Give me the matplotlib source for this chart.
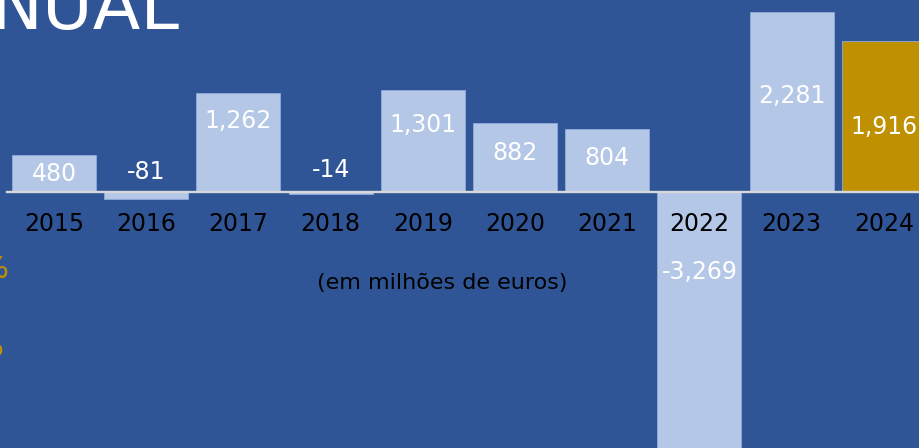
import matplotlib
matplotlib.use("Agg")
import matplotlib.pyplot as plt
import numpy as np

# ── data ─────────────────────────────────────────────────────────────────────
years = ["2015", "2016", "2017", "2018", "2019", "2020", "2021", "2022", "2023", "2024"]
values = [480, -81, 1262, -14, 1301, 882, 804, -3269, 2281, 1916]
labels = ["480", "-81", "1,262", "-14", "1,301", "882", "804", "-3,269", "2,281", "1,916"]
# where each value label sits (data units)
label_y = [232, 254, 901, 282, 852, 498, 435, -1004, 1219, 827]

BG = "#2f5597"
BAR = "#b4c7e7"
GOLD = "#bf9000"

# ── figure ───────────────────────────────────────────────────────────────────
W, H, DPI = 920, 448, 100
fig = plt.figure(figsize=(W / DPI, H / DPI), dpi=DPI)
fig.patch.set_facecolor(BG)
ax = fig.add_axes([0, 0, 1, 1])
ax.set_facecolor(BG)
ax.axis("off")

# pixel geometry of the slide crop
X0_PX, STEP_PX = 54, 92.2      # centre of first bar, spacing
BASE_PX, SCALE = 192.5, 0.079  # baseline y (px from top), px per unit
ax.set_xlim(-X0_PX / STEP_PX, (W - X0_PX) / STEP_PX)
ax.set_ylim(-(H - BASE_PX) / SCALE, BASE_PX / SCALE)

x = np.arange(len(years))
colors = [BAR] * (len(years) - 1) + [GOLD]
ax.bar(x, values, width=0.91, color=colors, edgecolor="#8faadc",
       linewidth=0.6, zorder=2)

ax.axhline(0, xmin=(7 / W), xmax=1, color="#d9d9d9", lw=1.7, zorder=3)

for xi, lab, ly in zip(x, labels, label_y):
    ax.text(xi, ly, lab, ha="center", va="center", fontsize=17,
            color="white", zorder=4)

tick_y = (BASE_PX - 224) / SCALE
for xi, yr in zip(x, years):
    ax.text(xi, tick_y, yr, ha="center", va="center", fontsize=17,
            color="black", zorder=4)

# unit note
fig.text(442 / W, 1 - 283 / H, "(em milhões de euros)", ha="center",
         va="center", fontsize=16, color="black")

# title fragment cut off at the top-left of the slide
fig.text(179 / W, 1 - 29 / H, "NUAL", ha="right", va="baseline",
         fontsize=50, color="white")

# gold fragments cut off on the left edge
fig.text(8 / W, 1 - 270 / H, "%", ha="right", va="center",
         fontsize=22, color=GOLD)
fig.text(3 / W, 1 - 347 / H, "%", ha="right", va="center",
         fontsize=22, color=GOLD)

fig.savefig("out.png", dpi=DPI, facecolor=fig.get_facecolor())
plt.close(fig)
